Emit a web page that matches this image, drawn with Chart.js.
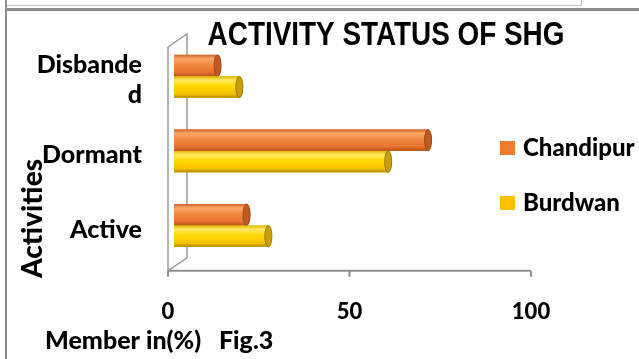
<!DOCTYPE html>
<html>
<head>
<meta charset="utf-8">
<script src="https://cdn.jsdelivr.net/npm/chart.js@4.4.0/dist/chart.umd.min.js"></script>
<style>
  html, body { margin: 0; padding: 0; background: #fff; }
  #wrap { position: relative; width: 639px; height: 359px; overflow: hidden; background: #fff; }
  #c { position: absolute; left: 0; top: 0; }
  .rule { position: absolute; background: #8c8c8c; }
</style>
</head>
<body>
<div id="wrap">
  <canvas id="c" width="639" height="359" style="width:639px;height:359px"></canvas>
  <div class="rule" style="left:5px;top:8px;width:634px;height:3px"></div>
  <div class="rule" style="left:5px;top:0;width:2px;height:359px"></div>
  <div class="rule" style="left:7px;top:5px;width:574px;height:1px;background:#c4c4c4"></div>
  <div class="rule" style="left:581px;top:0;width:1px;height:6px;background:#c4c4c4"></div>
</div>
<script>
// Activity status of self-help groups, share of members (%)
const categories = [['Disbande', 'd'], 'Dormant', 'Active'];
const chandipur = [12, 70, 20];
const burdwan = [18, 59, 26];
const seriesNames = ['Chandipur', 'Burdwan'];
const xTicks = [0, 50, 100];

const chartTitle = 'ACTIVITY STATUS OF SHG';
const yTitle = 'Activities';
const xTitle = 'Member in(%)   Fig.3';

const legendColors = ['#ED7D31', '#FFC000'];
// cylinder shading: [edge, highlight, body, lower body, bottom edge], cap colour
const shading = [
  { stops: ['#d0642a', '#f9a868', '#f38a42', '#e5722e', '#b4521b'], cap: '#c25a1f', capEdge: '#9c4615' },
  { stops: ['#e2b600', '#ffe866', '#ffd800', '#f3c300', '#b08900'], cap: '#caa000', capEdge: '#9a7900' }
];

const FONT = 'Lato, "Open Sans", sans-serif';

// 3D box: walls and the front floor edge, drawn behind the bars
const frame3d = {
  id: 'frame3d',
  beforeDatasetsDraw(chart) {
    const { ctx, chartArea } = chart;
    const xs = chart.scales.x;
    const p0 = xs.getPixelForValue(0);
    const { top, bottom } = chartArea;
    const fx = -6, fy = 8, bx = 13, by = -5;
    ctx.save();
    ctx.strokeStyle = '#9a9a9a';
    ctx.lineWidth = 1.5;
    ctx.beginPath();
    ctx.moveTo(p0 + fx, top + fy);
    ctx.lineTo(p0 + fx, bottom + fy);
    ctx.lineTo(p0 + bx, bottom + by);
    ctx.lineTo(p0 + bx, top + by);
    ctx.lineTo(p0 + fx, top + fy);
    ctx.stroke();
    // front edge of the floor with tick marks
    ctx.strokeStyle = '#8f8f8f';
    ctx.lineWidth = 2;
    ctx.beginPath();
    ctx.moveTo(p0 + fx, bottom + fy);
    ctx.lineTo(xs.getPixelForValue(xTicks[xTicks.length - 1]) + fx, bottom + fy);
    xTicks.forEach(v => {
      const px = xs.getPixelForValue(v) + fx;
      ctx.moveTo(px, bottom + fy);
      ctx.lineTo(px, bottom + fy + 6);
    });
    ctx.stroke();
    ctx.restore();
  }
};

// cylinder look for each bar, built on the bar elements' own geometry
const cylinders = {
  id: 'cylinders',
  afterDatasetsDraw(chart) {
    const { ctx } = chart;
    chart.data.datasets.forEach((ds, di) => {
      const meta = chart.getDatasetMeta(di);
      const sh = shading[di];
      meta.data.forEach(el => {
        const { x, y, base, height } = el.getProps(['x', 'y', 'base', 'height'], true);
        const t = y - height / 2;
        const g = ctx.createLinearGradient(0, t, 0, t + height);
        g.addColorStop(0, sh.stops[0]);
        g.addColorStop(0.18, sh.stops[1]);
        g.addColorStop(0.45, sh.stops[2]);
        g.addColorStop(0.82, sh.stops[3]);
        g.addColorStop(1, sh.stops[4]);
        ctx.save();
        ctx.fillStyle = g;
        ctx.fillRect(base, t, x - base, height);
        ctx.beginPath();
        ctx.ellipse(x, y, 3.5, height / 2, 0, 0, Math.PI * 2);
        ctx.fillStyle = sh.cap;
        ctx.fill();
        ctx.strokeStyle = sh.capEdge;
        ctx.lineWidth = 1;
        ctx.stroke();
        ctx.restore();
      });
    });
  }
};

// heading, axis titles and the series key
const annotations = {
  id: 'annotations',
  afterDraw(chart) {
    const { ctx } = chart;
    ctx.save();
    ctx.fillStyle = '#000';

    // condensed bold heading
    ctx.save();
    ctx.translate(386, 45);
    ctx.scale(0.82, 1);
    ctx.font = 'bold 34px "Liberation Sans", Arial, sans-serif';
    ctx.textAlign = 'center';
    ctx.textBaseline = 'alphabetic';
    ctx.fillText(chartTitle, 0, 0);
    ctx.restore();

    ctx.save();
    ctx.translate(33, 278);
    ctx.rotate(-Math.PI / 2);
    ctx.font = '900 28px ' + FONT;
    ctx.textAlign = 'left';
    ctx.textBaseline = 'middle';
    ctx.fillText(yTitle, 0, 0);
    ctx.restore();

    ctx.font = '900 25px ' + FONT;
    ctx.textAlign = 'left';
    ctx.textBaseline = 'middle';
    ctx.fillText(xTitle, 45, 341);

    ctx.font = '900 24px ' + FONT;
    seriesNames.forEach((name, i) => {
      const cy = 148 + i * 55;
      ctx.fillStyle = legendColors[i];
      ctx.fillRect(500, cy - 7, 15, 14);
      ctx.fillStyle = '#000';
      ctx.fillText(name, 523, cy);
    });
    ctx.restore();
  }
};

new Chart(document.getElementById('c'), {
  type: 'bar',
  data: {
    labels: categories,
    datasets: [
      { label: seriesNames[0], data: chandipur, backgroundColor: legendColors[0], borderWidth: 0 },
      { label: seriesNames[1], data: burdwan, backgroundColor: legendColors[1], borderWidth: 0 }
    ]
  },
  options: {
    indexAxis: 'y',
    responsive: false,
    animation: false,
    events: [],
    layout: { padding: { top: 35.6, right: 102, bottom: 0, left: 0 } },
    datasets: { bar: { categoryPercentage: 0.575, barPercentage: 1.0 } },
    plugins: {
      legend: { display: false },
      title: { display: false },
      tooltip: { enabled: false }
    },
    scales: {
      x: {
        min: 0,
        max: 100,
        afterBuildTicks: s => { s.ticks = xTicks.map(v => ({ value: v })); },
        afterFit: s => { s.height = 96.2; },
        grid: { display: false },
        border: { display: false },
        ticks: {
          color: '#000',
          font: { family: FONT, weight: '900', size: 22 },
          padding: 28,
          labelOffset: -6,
          maxRotation: 0
        }
      },
      y: {
        afterFit: s => { s.width = 174; },
        grid: { display: false },
        border: { display: false },
        ticks: {
          color: '#000',
          font: { family: FONT, weight: '900', size: 25, lineHeight: 1.2 },
          padding: 24,
          labelOffset: 4
        }
      }
    }
  },
  plugins: [frame3d, cylinders, annotations]
});
</script>
</body>
</html>
